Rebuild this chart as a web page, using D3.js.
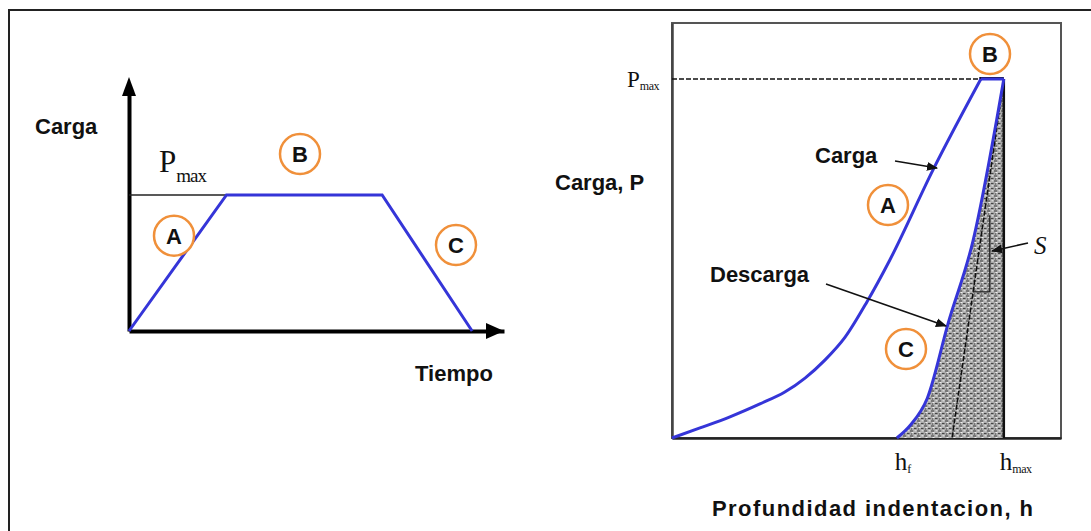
<!DOCTYPE html>
<html>
<head>
<meta charset="utf-8">
<script src="https://cdn.jsdelivr.net/npm/d3@7"></script>
<style>
  body { margin: 0; background: #fff; }
  .lbl { font-family: "Liberation Sans", Arial, sans-serif; font-weight: bold; font-size: 22px; fill: #111; }
  .serif { font-family: "Liberation Serif", "Times New Roman", serif; fill: #111; }
</style>
</head>
<body>
<svg width="1091" height="531"></svg>
<script>
// left chart: load vs time (Pmax = 1)
let timeVals = [0, 2.6, 6.75, 9.15]
let loadVals = [0, 1, 1, 0]
let timeMax = 10
let loadAxisTop = 1.87

// right chart: load vs indentation depth
let loadingH = [0, 0.072, 0.149, 0.226, 0.29, 0.342, 0.393, 0.445, 0.501, 0.56, 0.671, 0.794]
let loadingP = [0, 0.028, 0.059, 0.095, 0.128, 0.167, 0.217, 0.281, 0.379, 0.496, 0.747, 1.0]
let unloadH = [0.578, 0.612, 0.656, 0.71, 0.774, 0.853]
let unloadP = [0, 0.035, 0.11, 0.32, 0.55, 1.0]
let hf = 0.578
let hmax = 0.853
let tangentBase = 0.72
let boxTop = 1.156

let blue = "#3535d8"
let orange = "#f0903a"

let svg = d3.select("svg")

// outer frame (top + left only)
svg.append("path")
  .attr("d", "M9,531 V10 H1091")
  .attr("fill", "none")
  .attr("stroke", "#222")
  .attr("stroke-width", 2)

svg.append("defs").html(
  '<marker id="arr" viewBox="0 0 10 10" refX="9" refY="5" markerWidth="7" markerHeight="7" orient="auto">' +
  '<path d="M0,1 L10,5 L0,9 z" fill="#111"/></marker>' +
  '<pattern id="speck" width="7" height="5" patternUnits="userSpaceOnUse">' +
  '<rect width="7" height="5" fill="#a9a9a9"/>' +
  '<path d="M0,1 h3 M4,3.5 h2.5 M1,4 h1" stroke="#3a3a3a" stroke-width="0.9"/>' +
  '<path d="M4.5,0.8 h2 M1.5,2.5 h2" stroke="#eeeeee" stroke-width="1"/></pattern>')

function circled(x, y, letter) {
  svg.append("circle")
    .attr("cx", x).attr("cy", y).attr("r", 20)
    .attr("fill", "#fff")
    .attr("stroke", orange)
    .attr("stroke-width", 2.5)
  svg.append("text")
    .attr("class", "lbl")
    .attr("x", x).attr("y", y + 8)
    .attr("text-anchor", "middle")
    .attr("font-size", "23px")
    .text(letter)
}

// ---------- left chart ----------
let xL = d3.scaleLinear().domain([0, timeMax]).range([129, 504])
let yL = d3.scaleLinear().domain([0, 1]).range([331, 195])

let gL = svg.append("g")
gL.append("g")
  .attr("transform", "translate(0," + yL(0) + ")")
  .call(d3.axisBottom(xL).ticks(0).tickSizeOuter(0))
  .select(".domain")
  .attr("stroke", "#000")
  .attr("stroke-width", 4)
gL.append("g")
  .attr("transform", "translate(" + xL(0) + ",0)")
  .call(d3.axisLeft(yL.copy().domain([0, loadAxisTop]).range([331, 90])).ticks(0).tickSizeOuter(0))
  .select(".domain")
  .attr("stroke", "#000")
  .attr("stroke-width", 4)

// arrow heads
gL.append("path")
  .attr("d", "M" + (xL(0) - 7) + "," + 96 + " L" + xL(0) + ",77 L" + (xL(0) + 7) + ",96 z")
  .attr("fill", "#000")
gL.append("path")
  .attr("d", "M" + (xL(timeMax) - 18) + "," + (yL(0) - 8) + " L" + (xL(timeMax)) + "," + yL(0) + " L" + (xL(timeMax) - 18) + "," + (yL(0) + 8) + " z")
  .attr("fill", "#000")

// Pmax line
gL.append("line")
  .attr("x1", xL(0)).attr("x2", xL(timeVals[1]))
  .attr("y1", yL(1)).attr("y2", yL(1))
  .attr("stroke", "#222")
  .attr("stroke-width", 1.5)

let ptsL = timeVals.map((t, i) => [t, loadVals[i]])
gL.append("path")
  .datum(ptsL)
  .attr("fill", "none")
  .attr("stroke", blue)
  .attr("stroke-width", 3)
  .attr("d", d3.line().x(d => xL(d[0])).y(d => yL(d[1])))

svg.append("text").attr("class", "lbl").attr("x", 35).attr("y", 134).text("Carga")
svg.append("text").attr("class", "lbl").attr("x", 415).attr("y", 381).text("Tiempo")
let pm = svg.append("text").attr("class", "serif").attr("x", 159).attr("y", 172).attr("font-size", "31px")
pm.append("tspan").text("P")
pm.append("tspan").attr("font-size", "19px").attr("dy", 10).attr("letter-spacing", "-1px").text("max")

circled(xL(1.2), yL(0.7), "A")
circled(300, 154, "B")
circled(456, 245, "C")

// ---------- right chart ----------
let xR = d3.scaleLinear().domain([0, 1]).range([672, 1061])
let yR = d3.scaleLinear().domain([0, 1]).range([438, 79])

let gR = svg.append("g")
// box
gR.append("rect")
  .attr("x", xR(0)).attr("y", yR(boxTop))
  .attr("width", xR(1) - xR(0)).attr("height", yR(0) - yR(boxTop))
  .attr("fill", "none")
  .attr("stroke", "#555")
  .attr("stroke-width", 2)
gR.append("g")
  .attr("transform", "translate(0," + yR(0) + ")")
  .call(d3.axisBottom(xR).ticks(0).tickSizeOuter(0))
  .select(".domain")
  .attr("stroke", "#222")
  .attr("stroke-width", 2.5)
gR.append("g")
  .attr("transform", "translate(" + xR(0) + ",0)")
  .call(d3.axisLeft(yR.copy().domain([0, boxTop]).range([438, yR(boxTop)])).ticks(0).tickSizeOuter(0))
  .select(".domain")
  .attr("stroke", "#444")
  .attr("stroke-width", 2.5)

let lineR = d3.line().x(d => xR(d[0])).y(d => yR(d[1])).curve(d3.curveMonotoneX)

// shaded region between unloading curve and hmax
let unloadPts = unloadH.map((h, i) => [h, unloadP[i]])
gR.append("path")
  .attr("d", lineR(unloadPts) + " L" + xR(hmax) + "," + yR(0) + " Z")
  .attr("fill", "url(#speck)")

// tangent (dashed)
gR.append("line")
  .attr("x1", xR(hmax)).attr("y1", yR(1))
  .attr("x2", xR(tangentBase)).attr("y2", yR(0))
  .attr("stroke", "#111")
  .attr("stroke-width", 1.6)
  .attr("stroke-dasharray", "5,2")

// slope triangle
gR.append("path")
  .attr("d", "M" + xR(0.817) + "," + yR(0.62) + " V" + yR(0.407) + " H" + xR(0.774))
  .attr("fill", "none")
  .attr("stroke", "#222")
  .attr("stroke-width", 1.4)

// hmax vertical
gR.append("line")
  .attr("x1", xR(hmax)).attr("x2", xR(hmax))
  .attr("y1", yR(1)).attr("y2", yR(0))
  .attr("stroke", "#111")
  .attr("stroke-width", 2.5)

// Pmax dashed
gR.append("line")
  .attr("x1", xR(0)).attr("x2", xR(loadingH[loadingH.length - 1]))
  .attr("y1", yR(1)).attr("y2", yR(1))
  .attr("stroke", "#111")
  .attr("stroke-width", 1.5)
  .attr("stroke-dasharray", "5,2")

// small black top segment
gR.append("line")
  .attr("x1", xR(0.79)).attr("x2", xR(hmax))
  .attr("y1", yR(1) - 1).attr("y2", yR(1) - 1)
  .attr("stroke", "#111")
  .attr("stroke-width", 2)

// loading curve + hold
let loadPts = loadingH.map((h, i) => [h, loadingP[i]])
gR.append("path")
  .datum(loadPts)
  .attr("fill", "none")
  .attr("stroke", blue)
  .attr("stroke-width", 3)
  .attr("d", lineR)
gR.append("line")
  .attr("x1", xR(loadingH[loadingH.length - 1])).attr("x2", xR(hmax))
  .attr("y1", yR(1)).attr("y2", yR(1))
  .attr("stroke", blue)
  .attr("stroke-width", 3)
gR.append("path")
  .datum(unloadPts)
  .attr("fill", "none")
  .attr("stroke", blue)
  .attr("stroke-width", 3)
  .attr("d", lineR)

// annotation arrows
gR.append("line")
  .attr("x1", 895).attr("y1", 161).attr("x2", 937).attr("y2", 168)
  .attr("stroke", "#111").attr("stroke-width", 1.6)
  .attr("marker-end", "url(#arr)")
gR.append("line")
  .attr("x1", 826).attr("y1", 284).attr("x2", 946).attr("y2", 326)
  .attr("stroke", "#111").attr("stroke-width", 1.6)
  .attr("marker-end", "url(#arr)")
gR.append("line")
  .attr("x1", 1028).attr("y1", 243).attr("x2", 992).attr("y2", 251)
  .attr("stroke", "#111").attr("stroke-width", 1.6)
  .attr("marker-end", "url(#arr)")

svg.append("text").attr("class", "lbl").attr("x", 815).attr("y", 163).text("Carga")
svg.append("text").attr("class", "lbl").attr("x", 555).attr("y", 190).text("Carga, P")
svg.append("text").attr("class", "lbl").attr("x", 710).attr("y", 282).text("Descarga")
svg.append("text").attr("class", "lbl").attr("x", 712).attr("y", 516)
  .attr("font-size", "24px")
  .attr("textLength", 321).attr("lengthAdjust", "spacing")
  .text("Profundidad  indentacion, h")
svg.append("text").attr("class", "serif").attr("x", 1034).attr("y", 254)
  .attr("font-size", "25px").attr("font-style", "italic").text("S")

let pr = svg.append("text").attr("class", "serif").attr("x", 627).attr("y", 87).attr("font-size", "23px")
pr.append("tspan").text("P")
pr.append("tspan").attr("font-size", "12px").attr("dy", 3).attr("letter-spacing", "-0.5px").text("max")
let hfT = svg.append("text").attr("class", "serif").attr("x", xR(hf) - 2).attr("y", 470).attr("font-size", "25px")
hfT.append("tspan").text("h")
hfT.append("tspan").attr("font-size", "12px").attr("dy", 3).text("f")
let hmT = svg.append("text").attr("class", "serif").attr("x", xR(hmax) - 4).attr("y", 470).attr("font-size", "25px")
hmT.append("tspan").text("h")
hmT.append("tspan").attr("font-size", "12px").attr("dy", 3).attr("letter-spacing", "-0.5px").text("max")

circled(888, 205, "A")
circled(990, 54, "B")
circled(906, 349, "C")
</script>
</body>
</html>
